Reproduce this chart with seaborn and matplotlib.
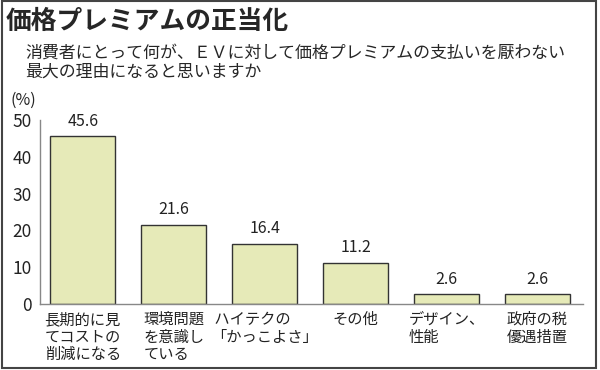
import matplotlib.pyplot as plt
import seaborn as sns
from matplotlib.patches import Rectangle

# Data
categories = ['長期的に見\nてコストの\n削減になる', '環境問題\nを意識し\nている',
              ' ハイテクの\n「かっこよさ」', 'その他', 'デザイン、\n性能', '政府の税\n優遇措置']
values = [45.6, 21.6, 16.4, 11.2, 2.6, 2.6]
value_labels = ['45.6', '21.6', '16.4', '11.2', '2.6', '2.6']
yticks = [0, 10, 20, 30, 40, 50]

title = '価格プレミアムの正当化'
subtitle = '消費者にとって何が、ＥＶに対して価格プレミアムの支払いを厭わない\n最大の理由になると思いますか'

sns.set_style('white')
plt.rcParams['font.family'] = ['Noto Sans CJK JP', 'DejaVu Sans']

fig = plt.figure(figsize=(6, 3.7), dpi=100)
ax = fig.add_axes([40 / 600, 66 / 370, 543 / 600, 184 / 370])

sns.barplot(x=list(range(len(values))), y=values, ax=ax, color='#e6eab8',
            edgecolor='#333333', linewidth=1.0, width=0.72, saturation=1)

for i, (v, lab) in enumerate(zip(values, value_labels)):
    ax.text(i, v + 1.8, lab, ha='center', va='bottom', fontsize=11.5, color='#222222')

ax.set_ylim(0, 50)
ax.set_xlim(-0.47, 5.5)
ax.set_yticks(yticks)
ax.set_yticklabels([str(t) for t in yticks], fontsize=12.5, color='#222222')
ax.set_xticks(range(len(categories)))
ax.set_xticklabels(categories, fontsize=11, color='#222222', linespacing=1.05)
for lbl in ax.get_xticklabels():
    lbl.set_multialignment('left')
ax.tick_params(axis='x', length=0, pad=5)
ax.tick_params(axis='y', direction='in', length=5, width=0.8, color='#777777', pad=6)

for side in ['top', 'right']:
    ax.spines[side].set_visible(False)
for side in ['left', 'bottom']:
    ax.spines[side].set_color('#888888')
    ax.spines[side].set_linewidth(1.0)
ax.set_xlabel('')
ax.set_ylabel('')

# Titles
fig.text(6 / 600, 1 - 21 / 370, title, fontsize=18.5, fontweight='bold', va='center', ha='left')
fig.text(25 / 600, 1 - 62 / 370, subtitle, fontsize=12.2, va='center', ha='left', linespacing=1.12)
fig.text(10 / 600, 1 - 100 / 370, '(%)', fontsize=11.5, va='center', ha='left')

# Outer frame
fig.patches.append(Rectangle((0.004, 0.005), 0.99, 0.993, transform=fig.transFigure,
                             fill=False, edgecolor='#444444', linewidth=1.5))

fig.savefig('out.png', dpi=100)
